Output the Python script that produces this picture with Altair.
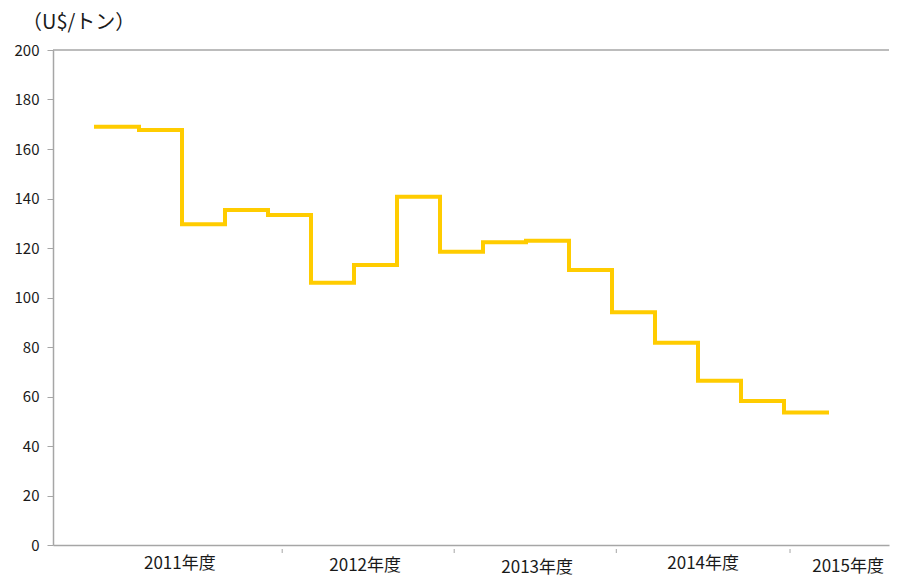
import altair as alt
import pandas as pd

# quarterly prices (U$/トン), fiscal 2011 Q1 .. 2015 Q1
quarters = list(range(17))
prices = [169.0, 167.7, 129.6, 135.4, 133.3, 106.0, 113.1, 140.7, 118.5,
          122.3, 122.9, 111.1, 94.0, 81.7, 66.4, 58.2, 53.5]

# year label positions (in quarter units) and divider tick positions
year_labels = ["2011年度", "2012年度", "2013年度", "2014年度", "2015年度"]
label_pos = [1.95, 6.26, 10.26, 14.12, 17.49]
label_dy = [0, 2, 4, 0, 3]
divider_pos = [4.33, 8.33, 12.1, 16.14]

FONT = "Noto Sans CJK JP"
W, H = 836, 495

# add end point so last step has width
step_df = pd.DataFrame({"q": quarters + [17], "price": prices + [prices[-1]]})
lab_df = pd.DataFrame({"q": label_pos, "label": year_labels, "dy": label_dy})
div_df = pd.DataFrame({"q": divider_pos})

xscale = alt.Scale(domain=[-1.0, -1.0 + W / 43.0], nice=False, zero=False)
yscale = alt.Scale(domain=[0, 200], nice=False)

line = alt.Chart(step_df).mark_line(
    interpolate="step-after", color="#FFCC00", strokeWidth=4, strokeCap="square"
).encode(
    x=alt.X("q:Q", scale=xscale,
            axis=alt.Axis(title=None, labels=False, ticks=False, domain=True,
                          domainColor="#a6a6a6", domainWidth=1.5, grid=False)),
    y=alt.Y("price:Q", scale=yscale,
            axis=alt.Axis(title=None, values=list(range(0, 201, 20)),
                          labelFont=FONT, labelFontSize=15, labelColor="#1a1a1a",
                          labelPadding=8, tickSize=6, tickColor="#a6a6a6",
                          domainColor="#a6a6a6", domainWidth=1.5, grid=False)),
)

top_line = alt.Chart(pd.DataFrame({"v": [200]})).mark_rule(
    color="#a6a6a6", strokeWidth=1.5
).encode(y=alt.Y("v:Q", scale=yscale))

dividers = alt.Chart(div_df).mark_rule(color="#a6a6a6", strokeWidth=1).encode(
    x=alt.X("q:Q", scale=xscale),
    y=alt.value(H + 4),
    y2=alt.value(H + 8),
)

labels = alt.Chart(lab_df).mark_text(
    font=FONT, fontSize=17, color="#1a1a1a", baseline="middle", align="center"
).encode(
    x=alt.X("q:Q", scale=xscale),
    y=alt.value(H + 19),
    yOffset=alt.YOffset("dy:Q", scale=None),
    text="label:N",
)

title = alt.Chart(pd.DataFrame({"t": ["（U$/トン）"]})).mark_text(
    font=FONT, fontSize=20, color="#1a1a1a", align="left", baseline="middle"
).encode(x=alt.value(-31), y=alt.value(-27), text="t:N")

chart = alt.layer(line, top_line, dividers, labels, title).properties(
    width=W, height=H,
    padding={"left": 45, "top": 42, "right": 2, "bottom": 34},
    autosize=alt.AutoSizeParams(type="none"),
).configure_view(stroke=None)

chart.save("out.html", embed_options={"renderer": "svg", "actions": False})
